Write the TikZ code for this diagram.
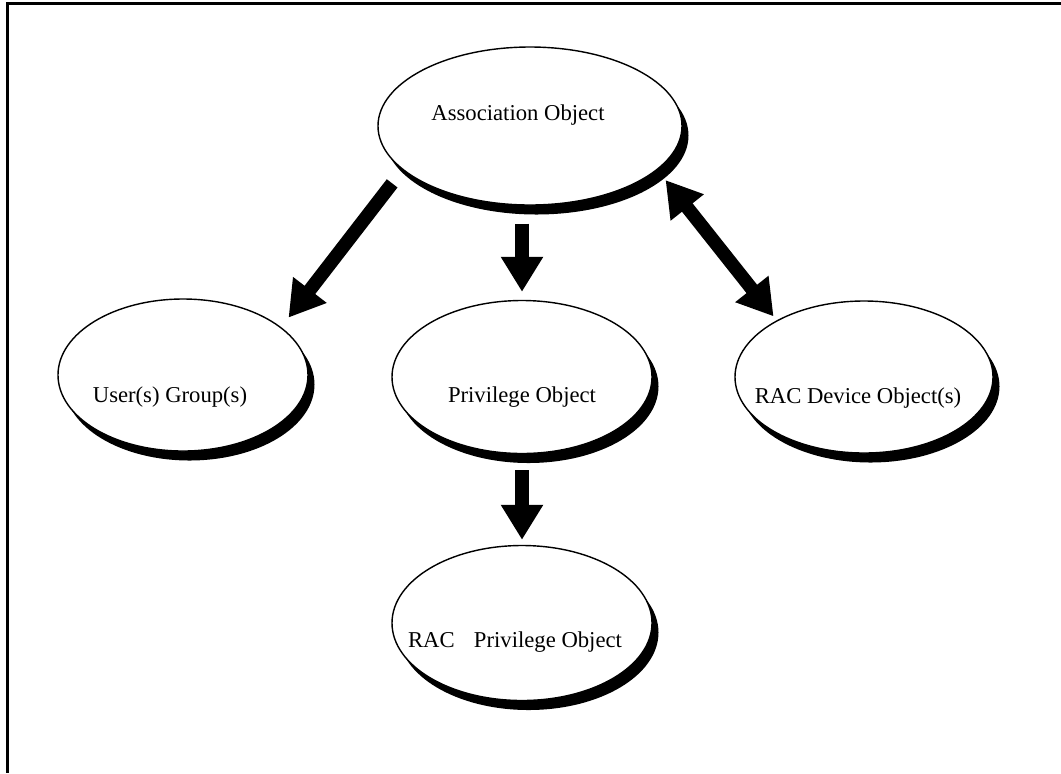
\documentclass[tikz,border=0pt]{standalone}
\usepackage{fontspec}
\setmainfont{Liberation Serif}
\usetikzlibrary{arrows.meta, positioning, shapes.geometric, shadows}

\begin{document}
\begin{tikzpicture}[
    object/.style={ellipse, draw, line width=0.8pt, fill=white, inner sep=0pt,
        general shadow={fill=black, shadow xshift=0.13cm, shadow yshift=-0.19cm}},
    txt/.style={font=\fontsize{12.9}{15}\selectfont, inner sep=0pt},
    fat/.style={line width=0.27cm, -{Triangle[length=0.7cm, width=0.8cm]}},
    fatboth/.style={line width=0.27cm, {Triangle[length=0.7cm, width=0.8cm]}-{Triangle[length=0.7cm, width=0.8cm]}}
]
    \useasboundingbox (0,0) rectangle (21.22,-15.46);
    % Frame
    \draw[line width=0.06cm] (21.22,-0.06) -- (0.15,-0.06) -- (0.15,-15.46);

    % Objects
    \node[object, minimum width=6.08cm, minimum height=3.16cm] (assoc) at (10.60,-2.52) {};
    \node[object, minimum width=5.00cm, minimum height=3.04cm] (group) at (3.66,-7.50) {};
    \node[object, minimum width=5.20cm, minimum height=3.06cm] (priv) at (10.44,-7.54) {};
    \node[object, minimum width=5.16cm, minimum height=3.04cm] (device) at (17.28,-7.54) {};
    \node[object, minimum width=5.20cm, minimum height=3.10cm] (racpriv) at (10.44,-12.46) {};

    % Labels
    \node[txt] (assoctxt) at ([xshift=-0.24cm,yshift=0.22cm]assoc.center) {Association Object};
    \node[txt] (grouptxt) at ([xshift=-0.26cm,yshift=-0.44cm]group.center) {User(s) Group(s)};
    \node[txt] (privtxt) at ([yshift=-0.40cm]priv.center) {Privilege Object};
    \node[txt] (devicetxt) at ([xshift=-0.12cm,yshift=-0.42cm]device.center) {RAC Device Object(s)};
    \node[txt] (racprivtxt) at ([xshift=-0.14cm,yshift=-0.38cm]racpriv.center) {RAC\hspace{11pt}Privilege Object};

    % Arrows
    \draw[fat, shorten <=0.34cm, shorten >=0.24cm] (assoc.199) -- (group.26.7);
    \draw[fat, shorten <=0.36cm, shorten >=0.16cm] (assoc.south -| priv.north) -- (priv.north);
    \draw[fatboth, shorten <=0.26cm, shorten >=0.10cm] (assoc.341.1) -- (device.147.8);
    \draw[fat, shorten <=0.32cm, shorten >=0.10cm] (priv.south) -- (racpriv.north);
\end{tikzpicture}
\end{document}
